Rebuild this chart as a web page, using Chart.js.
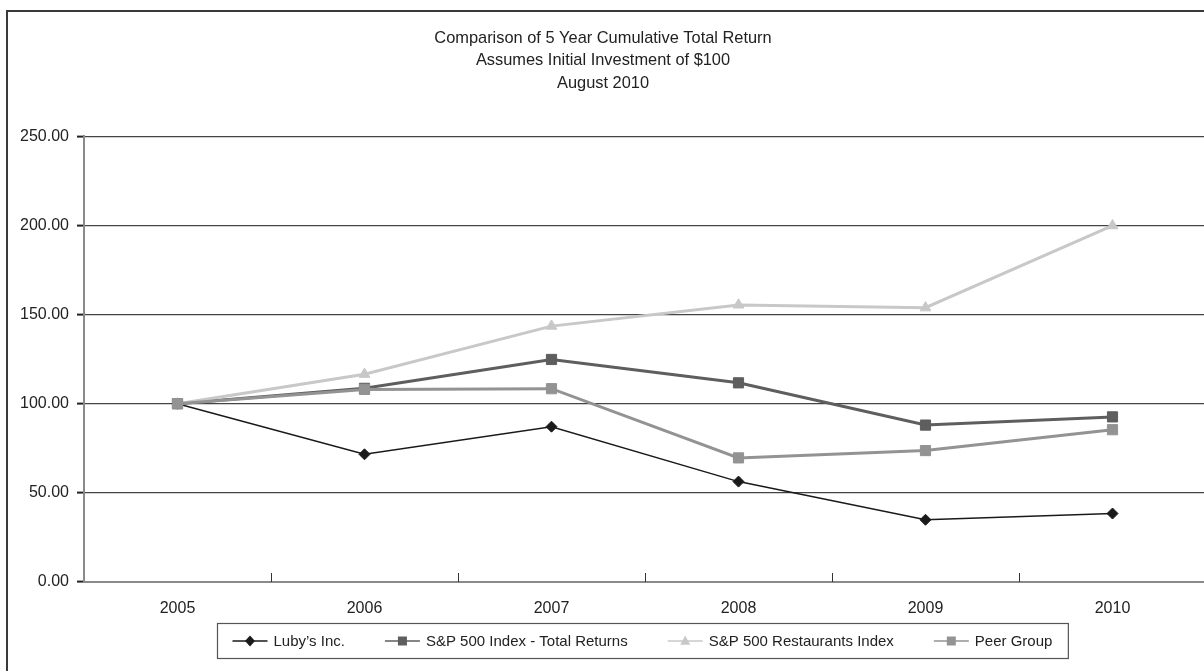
<!DOCTYPE html>
<html>
<head>
<meta charset="utf-8">
<script src="https://cdn.jsdelivr.net/npm/chart.js@4.4.1/dist/chart.umd.min.js"></script>
<style>
  html, body { margin: 0; padding: 0; overflow: hidden; background: #fff; width: 1204px; height: 671px; }
  #frame { position: absolute; left: 6px; top: 10px; width: 1300px; height: 720px; border: 2px solid #3a3a3a; box-sizing: border-box; }
  #c { position: absolute; left: 0; top: 0; }
</style>
</head>
<body>
<div id="frame"></div>
<canvas id="c" width="1228" height="671" style="width:1228px;height:671px"></canvas>
<script>
const categories = ['2005', '2006', '2007', '2008', '2009', '2010'];
const lubys = [100, 71.6, 87.1, 56.3, 34.9, 38.4];
const sp500 = [100, 108.6, 124.8, 111.7, 88.0, 92.6];
const restaurants = [100, 116.5, 143.5, 155.4, 153.8, 199.8];
const peerGroup = [100, 108.0, 108.4, 69.6, 73.7, 85.4];
const seriesNames = ["Luby\u2019s Inc.", 'S&P 500 Index - Total Returns', 'S&P 500 Restaurants Index', 'Peer Group'];
const titleLines = ['Comparison of 5 Year Cumulative Total Return', 'Assumes Initial Investment of $100', 'August 2010'];
const yTicks = { min: 0, max: 250, step: 50 };

const FONT = "'Liberation Sans', Arial, Helvetica, sans-serif";

function drawMarker(ctx, style, x, y, r, color) {
  ctx.save();
  ctx.fillStyle = color;
  ctx.beginPath();
  if (style === 'rectRot') {
    ctx.moveTo(x, y - r * 1.1); ctx.lineTo(x + r, y); ctx.lineTo(x, y + r * 1.1); ctx.lineTo(x - r, y);
  } else if (style === 'rect') {
    ctx.rect(x - r, y - r, 2 * r, 2 * r);
  } else if (style === 'triangle') {
    ctx.moveTo(x, y - r * 1.1); ctx.lineTo(x + r, y + r * 0.75); ctx.lineTo(x - r, y + r * 0.75);
  }
  ctx.closePath();
  ctx.fill();
  ctx.restore();
}

const innerTicks = {
  id: 'innerTicks',
  beforeDatasetsDraw(chart) {
    const x = chart.scales.x, ctx = chart.ctx;
    const bottom = chart.chartArea.bottom;
    ctx.save();
    ctx.strokeStyle = '#333';
    ctx.lineWidth = 1;
    for (let i = 1; i < categories.length; i++) {
      const px = Math.round((x.getPixelForValue(i - 1) + x.getPixelForValue(i)) / 2) + 0.5;
      ctx.beginPath();
      ctx.moveTo(px, bottom - 9);
      ctx.lineTo(px, bottom);
      ctx.stroke();
    }
    ctx.restore();
  }
};

const boxLegend = {
  id: 'boxLegend',
  afterDraw(chart) {
    const ctx = chart.ctx;
    const ds = chart.data.datasets;
    ctx.save();
    ctx.font = '15px ' + FONT;
    const lineLen = 35, gapText = 6, gapItem = 40, padL = 15, padR = 16;
    const widths = ds.map(d => ctx.measureText(d.label).width);
    let total = padL + padR;
    widths.forEach((w, i) => { total += lineLen + gapText + w + (i < widths.length - 1 ? gapItem : 0); });
    const area = chart.chartArea;
    const cx = (area.left + area.right) / 2 - 2.5;
    const left = Math.round(cx - total / 2) + 0.5;
    const top = Math.round(area.bottom + 41) + 0.5;
    const h = 35;
    ctx.strokeStyle = '#555';
    ctx.lineWidth = 1.2;
    ctx.strokeRect(left, top, total, h);
    const cy = top + h / 2;
    let x = left + padL;
    ds.forEach((d, i) => {
      ctx.strokeStyle = d.borderColor;
      ctx.lineWidth = 1.5;
      ctx.beginPath();
      ctx.moveTo(x, cy);
      ctx.lineTo(x + lineLen, cy);
      ctx.stroke();
      const r = d.pointStyle === 'rect' ? 4.5 : 5;
      drawMarker(ctx, d.pointStyle, x + lineLen / 2, cy, r, d.pointBackgroundColor);
      ctx.fillStyle = '#222';
      ctx.textBaseline = 'middle';
      ctx.textAlign = 'left';
      ctx.fillText(d.label, x + lineLen + gapText, cy + 1);
      x += lineLen + gapText + widths[i] + gapItem;
    });
    ctx.restore();
  }
};

new Chart(document.getElementById('c'), {
  type: 'line',
  data: {
    labels: categories,
    datasets: [
      { label: seriesNames[0], data: lubys, borderColor: '#1a1a1a', borderWidth: 1.5,
        pointStyle: 'rectRot', pointRadius: 5.5, pointBackgroundColor: '#1a1a1a', pointBorderColor: '#1a1a1a', pointBorderWidth: 1, order: 4 },
      { label: seriesNames[1], data: sp500, borderColor: '#5e5e5e', borderWidth: 3,
        pointStyle: 'rect', pointRadius: 7.2, pointBackgroundColor: '#5e5e5e', pointBorderColor: '#5e5e5e', pointBorderWidth: 1, order: 3 },
      { label: seriesNames[2], data: restaurants, borderColor: '#c8c8c8', borderWidth: 3,
        pointStyle: 'triangle', pointRadius: 6.2, pointBackgroundColor: '#c8c8c8', pointBorderColor: '#c8c8c8', pointBorderWidth: 1, order: 2 },
      { label: seriesNames[3], data: peerGroup, borderColor: '#939393', borderWidth: 3,
        pointStyle: 'rect', pointRadius: 7.2, pointBackgroundColor: '#939393', pointBorderColor: '#939393', pointBorderWidth: 1, order: 1 }
    ]
  },
  options: {
    responsive: false,
    animation: false,
    devicePixelRatio: 1,
    layout: { padding: { left: 0, right: 22, top: 0, bottom: 53 } },
    elements: { line: { tension: 0 } },
    plugins: {
      legend: { display: false },
      tooltip: { enabled: false },
      title: {
        display: true,
        text: titleLines,
        color: '#222',
        font: { family: FONT, size: 16.4, weight: 'normal', lineHeight: 1.37 },
        padding: { top: 27, bottom: 41.8 }
      }
    },
    scales: {
      x: {
        type: 'category',
        offset: true,
        grid: { display: true, drawOnChartArea: false, drawTicks: false, color: 'rgba(0,0,0,0)', offset: true },
        border: { display: true, color: '#8a8a8a', width: 2 },
        ticks: { color: '#222', font: { family: FONT, size: 16 }, padding: 17, maxRotation: 0, autoSkip: false },
        afterFit(scale) { scale.height = 36; }
      },
      y: {
        min: yTicks.min,
        max: yTicks.max,
        grid: {
          color: (c) => (c.tick && c.tick.value === 0) ? 'rgba(0,0,0,0)' : '#444',
          lineWidth: 1.2,
          tickLength: 7,
          tickColor: '#222',
          tickWidth: 2
        },
        border: { display: true, color: '#8a8a8a', width: 2 },
        ticks: {
          stepSize: yTicks.step,
          color: '#222',
          font: { family: FONT, size: 16 },
          padding: 8,
          callback: (v) => Number(v).toFixed(2)
        },
        afterFit(scale) { scale.width = 84; }
      }
    }
  },
  plugins: [innerTicks, boxLegend]
});
</script>
</body>
</html>
